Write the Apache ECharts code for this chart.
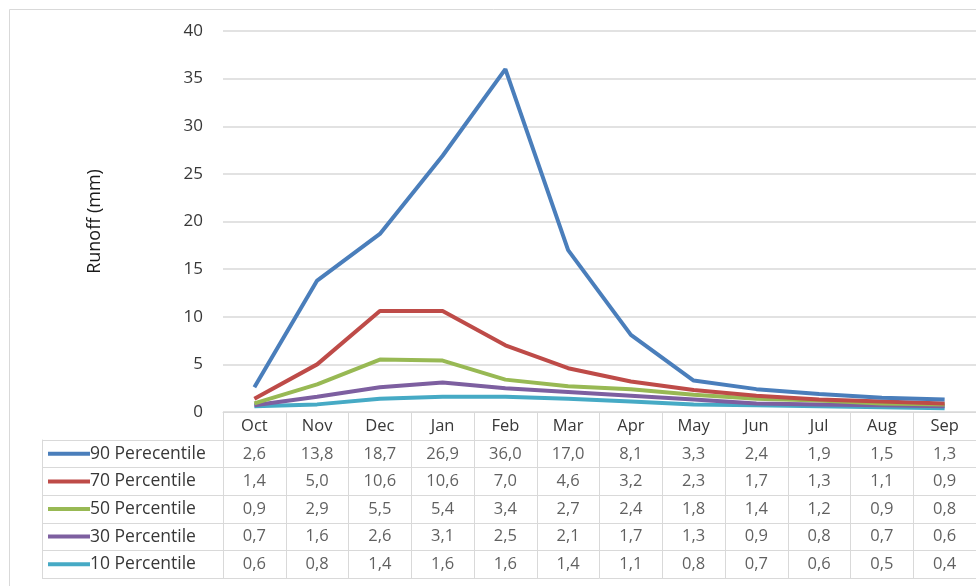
<!DOCTYPE html>
<html>
<head>
<meta charset="utf-8">
<script src="https://cdn.jsdelivr.net/npm/echarts@6/dist/echarts.min.js"></script>
<style>
html,body{margin:0;padding:0;background:#fff;}
#c{width:976px;height:586px;}
</style>
</head>
<body>
<div id="c"></div>
<script>
var months = ['Oct','Nov','Dec','Jan','Feb','Mar','Apr','May','Jun','Jul','Aug','Sep'];
var seriesNames = ['90 Perecentile','70 Percentile','50 Percentile','30 Percentile','10 Percentile'];
var p90 = [2.6,13.8,18.7,26.9,36.0,17.0,8.1,3.3,2.4,1.9,1.5,1.3];
var p70 = [1.4,5.0,10.6,10.6,7.0,4.6,3.2,2.3,1.7,1.3,1.1,0.9];
var p50 = [0.9,2.9,5.5,5.4,3.4,2.7,2.4,1.8,1.4,1.2,0.9,0.8];
var p30 = [0.7,1.6,2.6,3.1,2.5,2.1,1.7,1.3,0.9,0.8,0.7,0.6];
var p10 = [0.6,0.8,1.4,1.6,1.6,1.4,1.1,0.8,0.7,0.6,0.5,0.4];
var yTicks = [0,5,10,15,20,25,30,35,40];
var yTitle = 'Runoff (mm)';

var allValues = [p90,p70,p50,p30,p10];
var colors = ['#4A7EBB','#BE4B48','#98B954','#7D5FA0','#46AAC5'];
var FONT = 'Open Sans';
var gridColor = '#d9d9d9';
var textColor = '#383838';

var chart = echarts.init(document.getElementById('c'));

var lineSeries = allValues.map(function(vals, i){
  return {
    type:'line', name: seriesNames[i], xAxisIndex:0, yAxisIndex:0,
    data: vals, symbol:'none', smooth:false,
    lineStyle:{color:colors[i], width:4},
    itemStyle:{color:colors[i]},
    z: 10 - i
  };
});

var tableSeries = allValues.map(function(vals, i){
  return {
    type:'scatter', xAxisIndex:1, yAxisIndex:1, symbolSize:0,
    data: vals.map(function(v, j){ return [months[j], seriesNames[i], v]; }),
    label:{show:true, position:'inside', color:textColor, fontFamily:FONT, fontSize:16.5,
      formatter:function(p){ return p.value[2].toFixed(1).replace('.', ','); }},
    silent:true
  };
});

var rich = {t:{fontFamily:FONT, fontSize:17.5, color:textColor}};
colors.forEach(function(c, i){ rich['l'+i] = {width:42, height:4, backgroundColor:c}; });

chart.setOption({
  animation:false,
  backgroundColor:'#fff',
  graphic:[{type:'rect', shape:{x:9.5, y:9.5, width:1000, height:600},
    style:{fill:'none', stroke:'#d9d9d9', lineWidth:1}, silent:true}],
  grid:[
    {left:223, width:759, top:31, height:381},
    {left:223, width:759, top:440, height:138}
  ],
  xAxis:[
    {type:'category', gridIndex:0, data:months, boundaryGap:true,
      axisLine:{show:true, lineStyle:{color:gridColor, width:1}},
      axisTick:{show:true, length:28, lineStyle:{color:gridColor}},
      axisLabel:{color:textColor, fontFamily:FONT, fontSize:16.5, margin:6},
      splitLine:{show:false}},
    {type:'category', gridIndex:1, data:months, boundaryGap:true,
      axisLine:{show:false}, axisTick:{show:false}, axisLabel:{show:false},
      splitLine:{show:true, lineStyle:{color:gridColor, width:1}}}
  ],
  yAxis:[
    {type:'value', gridIndex:0, min:yTicks[0], max:yTicks[yTicks.length-1], interval:5,
      name:yTitle, nameLocation:'middle', nameGap:119, nameRotate:90,
      nameTextStyle:{color:'#1a1a1a', fontFamily:FONT, fontSize:18},
      axisLine:{show:false}, axisTick:{show:false},
      axisLabel:{color:textColor, fontFamily:FONT, fontSize:17, margin:20},
      splitLine:{show:true, lineStyle:{color:gridColor, width:1.5}}},
    {type:'category', gridIndex:1, data:seriesNames, inverse:true, boundaryGap:true,
      axisLine:{show:true, lineStyle:{color:gridColor}},
      axisTick:{show:true, length:181, lineStyle:{color:gridColor}},
      axisLabel:{align:'left', margin:175,
        formatter:function(v, i){ return '{l'+i+'|}{t|'+v+'}'; }, rich:rich},
      splitLine:{show:true, lineStyle:{color:gridColor, width:1}}},
    {type:'category', gridIndex:1, data:seriesNames, inverse:true, position:'left', offset:181,
      axisLine:{show:true, lineStyle:{color:gridColor}},
      axisTick:{show:false}, axisLabel:{show:false}, splitLine:{show:false}}
  ],
  series: lineSeries.concat(tableSeries)
});
</script>
</body>
</html>
